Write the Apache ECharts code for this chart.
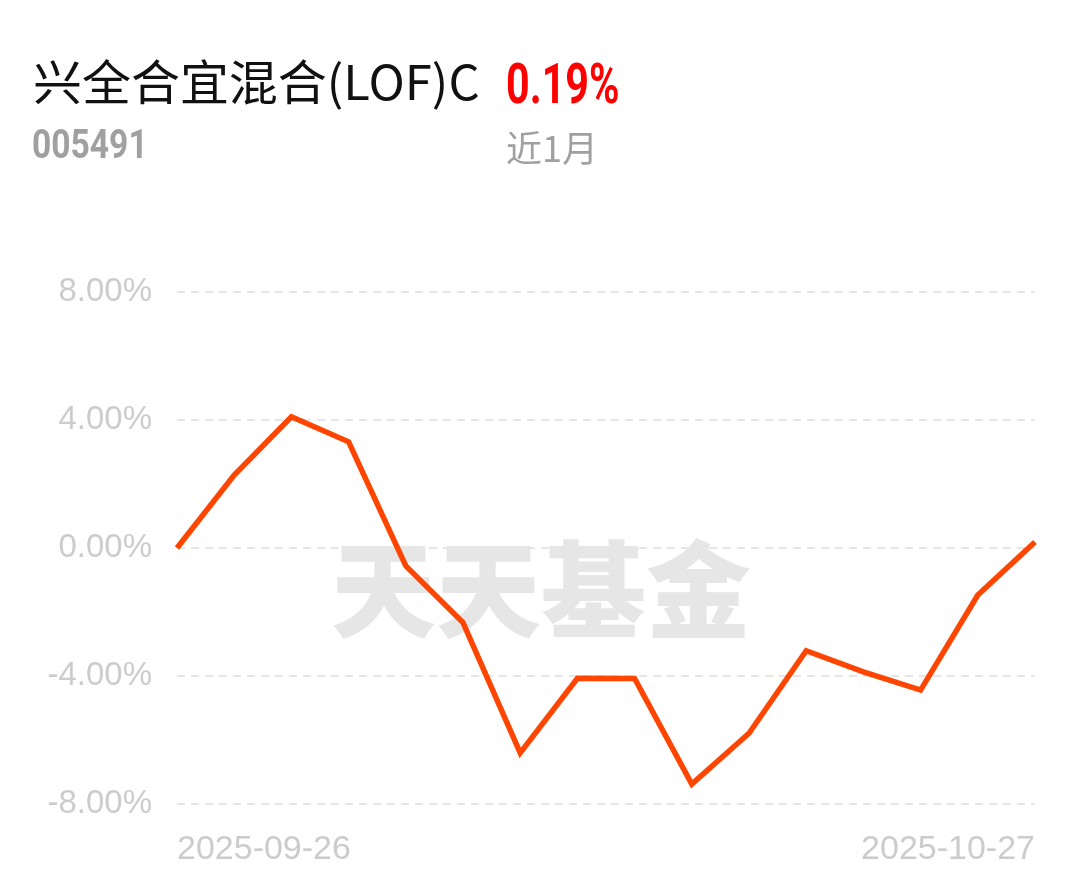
<!DOCTYPE html>
<html>
<head>
<meta charset="utf-8">
<style>
html,body{margin:0;padding:0;background:#fff;}
#chart{width:1080px;height:881px;}
</style>
<script src="https://cdn.jsdelivr.net/npm/echarts@6/dist/echarts.min.js"></script>
</head>
<body>
<div id="chart"></div>
<script>
const categories = ['2025-09-26','2025-09-29','2025-09-30','2025-10-09','2025-10-10','2025-10-13','2025-10-14','2025-10-15','2025-10-16','2025-10-17','2025-10-20','2025-10-21','2025-10-22','2025-10-23','2025-10-24','2025-10-27'];
const values = [0.00, 2.28, 4.10, 3.32, -0.56, -2.33, -6.40, -4.07, -4.08, -7.38, -5.79, -3.21, -3.87, -4.44, -1.47, 0.19];
const yTicks = {min: -8, max: 8, interval: 4};
const fundName = '兴全合宜混合(LOF)C';
const fundCode = '005491';
const returnText = '0.19%';
const periodText = '近1月';
const watermark = '天天基金';

const chart = echarts.init(document.getElementById('chart'));
const last = categories.length - 1;
chart.setOption({
  backgroundColor: '#fff',
  animation: false,
  grid: {left: 177, right: 45, top: 292, bottom: 77, containLabel: false},
  graphic: [
    {type: 'text', x: 33, y: 58, scaleX: 1.02, z: 10, style: {text: fundName, fill: '#111', font: '48px "Noto Sans CJK SC", sans-serif'}},
    {type: 'text', x: 506, y: 62, scaleX: 0.75, z: 10, style: {text: returnText, fill: '#ff0000', font: 'bold 55px Roboto, sans-serif'}},
    {type: 'text', x: 32, y: 128, scaleX: 0.84, z: 10, style: {text: fundCode, fill: '#a0a0a0', font: 'bold 40px Roboto, sans-serif'}},
    {type: 'text', left: 506, top: 130, z: 10, style: {text: periodText, fill: '#a0a0a0', font: '36px "Noto Sans CJK SC", sans-serif'}},
    {type: 'text', left: 331, top: 537, z: 0, silent: true, style: {text: watermark, fill: '#e6e6e6', font: '900 105px "Noto Sans CJK SC", sans-serif'}}
  ],
  xAxis: {
    type: 'category',
    data: categories,
    boundaryGap: false,
    axisLine: {show: false},
    axisTick: {show: false},
    splitLine: {show: false},
    axisLabel: {
      interval: (i) => i === 0 || i === last,
      color: '#cccccc',
      fontSize: 34,
      fontFamily: 'Liberation Sans, Arial, sans-serif',
      margin: 29,
      alignMinLabel: 'left',
      alignMaxLabel: 'right',
      showMinLabel: true,
      showMaxLabel: true
    }
  },
  yAxis: {
    type: 'value',
    min: yTicks.min,
    max: yTicks.max,
    interval: yTicks.interval,
    axisLine: {show: false},
    axisTick: {show: false},
    axisLabel: {
      color: '#cccccc',
      fontSize: 33,
      fontFamily: 'Liberation Sans, Arial, sans-serif',
      margin: 25,
      padding: [8, 0, 0, 0],
      formatter: (v) => v.toFixed(2) + '%'
    },
    splitLine: {lineStyle: {color: '#e6e6e6', width: 2, type: [8, 6]}}
  },
  series: [{
    type: 'line',
    data: values,
    z: 5,
    symbol: 'none',
    lineStyle: {color: '#ff4500', width: 5.5, join: 'miter'},
    itemStyle: {color: '#ff4500'}
  }]
});
</script>
</body>
</html>
